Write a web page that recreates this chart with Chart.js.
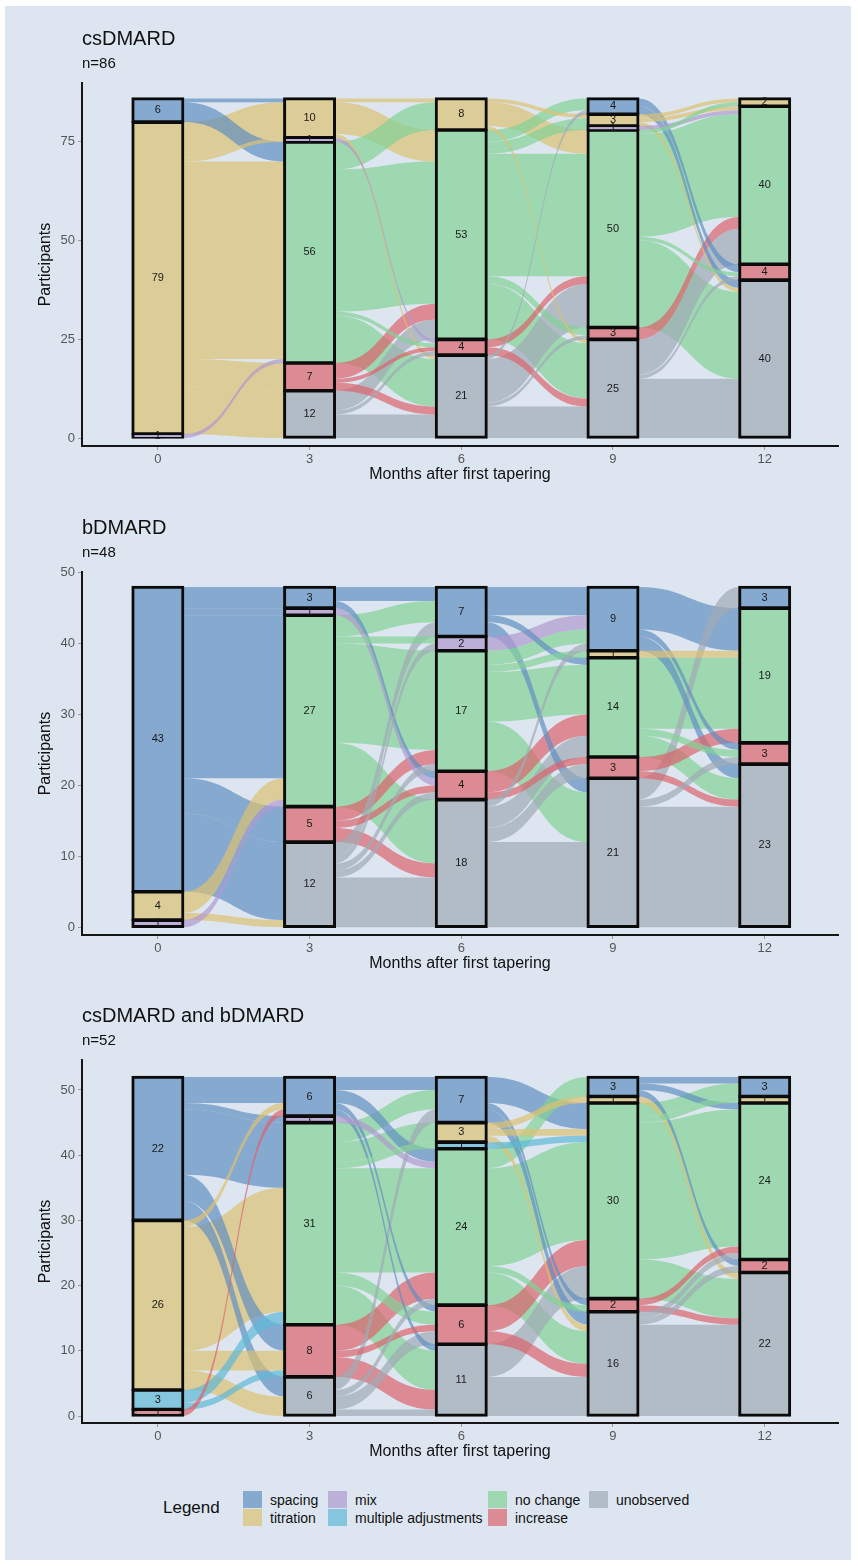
<!DOCTYPE html>
<html>
<head>
<meta charset="utf-8">
<script src="https://cdn.jsdelivr.net/npm/chart.js@4.4.1/dist/chart.umd.min.js"></script>
<style>
  html, body { margin: 0; padding: 0; background: #ffffff; }
  body { width: 858px; height: 1566px; position: relative; overflow: hidden;
         font-family: "Liberation Sans", Arial, sans-serif; color: #111; }
  #frame { position: absolute; left: 5px; top: 6px; right: 7px; bottom: 6px; background: #dde6f0; }
  .panel { position: absolute; left: 0; width: 858px; height: 488px; }
  .panel canvas { position: absolute; left: 0; top: 0; }
  .ttl { position: absolute; left: 82px; font-size: 20px; line-height: 1; white-space: nowrap; }
  .sub { position: absolute; left: 82px; font-size: 15px; line-height: 1; white-space: nowrap; }
  #legendTitle { position: absolute; left: 163px; top: 1499px; font-size: 17px; line-height: 1; }
  #legendItems { position: absolute; left: 243px; top: 1491px; display: grid;
                 grid-auto-flow: column; grid-template-rows: 17px 17px; row-gap: 1px;
                 grid-template-columns: 85px 160px 101px auto; }
  .lg { display: flex; align-items: center; height: 17px; font-size: 14px; white-space: nowrap; }
  .lg span.key { width: 19px; height: 17px; margin-right: 8px; display: inline-block; }
</style>
</head>
<body>
<div id="frame"></div>

<div class="panel" style="top:0px">
  <canvas id="chartCs" width="858" height="488"></canvas>
  <div class="ttl" style="top:28px">csDMARD</div>
  <div class="sub" style="top:55px">n=86</div>
</div>
<div class="panel" style="top:489px">
  <canvas id="chartB" width="858" height="488"></canvas>
  <div class="ttl" style="top:28px">bDMARD</div>
  <div class="sub" style="top:55px">n=48</div>
</div>
<div class="panel" style="top:977px">
  <canvas id="chartCsB" width="858" height="488"></canvas>
  <div class="ttl" style="top:28px">csDMARD and bDMARD</div>
  <div class="sub" style="top:55px">n=52</div>
</div>

<div id="legendTitle">Legend</div>
<div id="legendItems"></div>

<script>
// ---- data ---------------------------------------------------------------
const months = [0, 3, 6, 9, 12];
// strata, listed from the top of each column to the bottom
const states = ["spacing", "titration", "mix", "multiple adjustments", "no change", "increase", "unobserved"];
const stateColors = ["#86a9cf", "#dccc97", "#bdb0d8", "#84c6dd", "#9dd8b0", "#dc8a93", "#b2bcc7"];
const SP = 0, TI = 1, MX = 2, MA = 3, NC = 4, IN = 5, UN = 6;

// csDMARD: participants per stratum at each visit (order as in `states`)
const csCounts = [
  [6, 79, 1, 0, 0, 0, 0],
  [0, 10, 1, 0, 56, 7, 12],
  [0, 8, 0, 0, 53, 4, 21],
  [4, 3, 1, 0, 50, 3, 25],
  [0, 2, 0, 0, 40, 4, 40]
];
// transitions between consecutive visits: [from, to, participants]
const csFlows = [
  [[SP,TI,1],[SP,NC,5],[TI,TI,9],[TI,MX,1],[TI,NC,50],[TI,IN,7],[TI,UN,12],[MX,NC,1]],
  [[TI,TI,1],[TI,NC,8],[TI,UN,1],[MX,IN,1],[NC,TI,7],[NC,NC,36],[NC,IN,1],[NC,UN,12],
   [IN,NC,4],[IN,IN,1],[IN,UN,2],[UN,NC,5],[UN,IN,1],[UN,UN,6]],
  [[TI,TI,1],[TI,NC,6],[TI,UN,1],[NC,SP,3],[NC,TI,2],[NC,MX,1],[NC,NC,31],[NC,IN,2],[NC,UN,14],
   [IN,NC,2],[IN,UN,2],[UN,SP,1],[UN,NC,11],[UN,IN,1],[UN,UN,8]],
  [[SP,IN,2],[SP,UN,2],[TI,TI,1],[TI,NC,1],[TI,UN,1],[MX,NC,1],[NC,TI,1],[NC,NC,26],[NC,IN,1],[NC,UN,22],
   [IN,NC,3],[UN,NC,9],[UN,IN,1],[UN,UN,15]]
];
const csTicks = [0, 25, 50, 75];

// bDMARD
const bCounts = [
  [43, 4, 1, 0, 0, 0, 0],
  [3, 0, 1, 0, 27, 5, 12],
  [7, 0, 2, 0, 17, 4, 18],
  [9, 1, 0, 0, 14, 3, 21],
  [3, 0, 0, 0, 19, 3, 23]
];
const bFlows = [
  [[SP,SP,3],[SP,MX,1],[SP,NC,23],[SP,IN,5],[SP,UN,11],[TI,NC,3],[TI,UN,1],[MX,NC,1]],
  [[SP,SP,2],[SP,IN,1],[MX,IN,1],[NC,SP,3],[NC,MX,1],[NC,NC,14],[NC,UN,9],
   [IN,NC,2],[IN,IN,1],[IN,UN,2],[UN,SP,2],[UN,MX,1],[UN,NC,1],[UN,IN,1],[UN,UN,7]],
  [[SP,SP,4],[SP,NC,1],[SP,UN,2],[MX,SP,2],[NC,SP,2],[NC,TI,1],[NC,NC,7],[NC,UN,7],
   [IN,NC,3],[IN,IN,1],[UN,SP,1],[UN,NC,3],[UN,IN,2],[UN,UN,12]],
  [[SP,NC,6],[SP,IN,1],[SP,UN,2],[TI,NC,1],[NC,NC,10],[NC,IN,1],[NC,UN,3],
   [IN,NC,2],[IN,UN,1],[UN,SP,3],[UN,IN,1],[UN,UN,17]]
];
const bTicks = [0, 10, 20, 30, 40, 50];

// csDMARD and bDMARD
const csbCounts = [
  [22, 26, 0, 3, 0, 1, 0],
  [6, 0, 1, 0, 31, 8, 6],
  [7, 3, 0, 1, 24, 6, 11],
  [3, 1, 0, 0, 30, 2, 16],
  [3, 1, 0, 0, 24, 2, 22]
];
const csbFlows = [
  [[SP,SP,4],[SP,MX,1],[SP,NC,10],[SP,IN,4],[SP,UN,3],[TI,SP,1],[TI,NC,19],[TI,IN,3],[TI,UN,3],
   [MA,NC,2],[MA,IN,1],[IN,SP,1]],
  [[SP,SP,2],[SP,NC,2],[SP,IN,1],[SP,UN,1],[MX,NC,1],[NC,SP,3],[NC,TI,3],[NC,MA,1],[NC,NC,16],
   [NC,IN,2],[NC,UN,6],[IN,NC,4],[IN,IN,1],[IN,UN,3],[UN,SP,2],[UN,NC,1],[UN,IN,2],[UN,UN,1]],
  [[SP,NC,4],[SP,IN,1],[SP,UN,2],[TI,TI,1],[TI,NC,1],[TI,UN,1],[MA,NC,1],[NC,SP,3],[NC,NC,15],
   [NC,IN,1],[NC,UN,5],[IN,NC,4],[IN,UN,2],[UN,NC,5],[UN,UN,6]],
  [[SP,SP,1],[SP,NC,1],[SP,IN,1],[TI,UN,1],[NC,SP,2],[NC,TI,1],[NC,NC,21],[NC,UN,6],
   [IN,NC,1],[IN,UN,1],[UN,NC,1],[UN,IN,1],[UN,UN,14]]
];
const csbTicks = [0, 10, 20, 30, 40, 50];

// ---- drawing ------------------------------------------------------------
const FONT = '"Liberation Sans", Arial, sans-serif';
Chart.defaults.font.family = FONT;
const PAGE_BG = [221, 230, 240];
const FLOW_ALPHA = 0.7;

function hexToRgb(h) {
  const v = parseInt(h.slice(1), 16);
  return [(v >> 16) & 255, (v >> 8) & 255, v & 255];
}
// translucent flow colour that settles on the stratum colour over the page background
const flowColors = stateColors.map(h => {
  const c = hexToRgb(h).map((v, i) => Math.max(0, Math.min(255, Math.round((v - (1 - FLOW_ALPHA) * PAGE_BG[i]) / FLOW_ALPHA))));
  return `rgba(${c[0]},${c[1]},${c[2]},${FLOW_ALPHA})`;
});

// lower/upper bound of every stratum, stacked with the last state at the bottom
function stackBounds(counts) {
  return counts.map(col => {
    const b = [];
    let acc = 0;
    for (let s = col.length - 1; s >= 0; s--) { b[s] = [acc, acc + col[s]]; acc += col[s]; }
    return b;
  });
}

function alluviaPlugin(counts, flows) {
  return {
    id: 'alluvia',
    beforeDatasetsDraw(chart) {
      const { ctx, scales: { x, y } } = chart;
      let half = 0;
      chart.data.datasets.forEach((d, i) => {
        const m = chart.getDatasetMeta(i);
        if (!half && m.data.length) half = m.data[0].width / 2;
      });
      const bounds = stackBounds(counts);
      ctx.save();
      flows.forEach((step, t) => {
        const outTop = bounds[t].map(b => b[1]);
        const inTop = bounds[t + 1].map(b => b[1]);
        const geo = step.map(f => ({ from: f[0], to: f[1], n: f[2] }));
        geo.slice().sort((a, b) => a.from - b.from || a.to - b.to).forEach(g => {
          g.s1 = outTop[g.from]; g.s0 = g.s1 - g.n; outTop[g.from] = g.s0;
        });
        geo.slice().sort((a, b) => a.to - b.to || a.from - b.from).forEach(g => {
          g.t1 = inTop[g.to]; g.t0 = g.t1 - g.n; inTop[g.to] = g.t0;
        });
        const x0 = x.getPixelForValue(months[t]) + half;
        const x1 = x.getPixelForValue(months[t + 1]) - half;
        const xm = (x0 + x1) / 2;
        geo.sort((a, b) => b.n - a.n).forEach(g => {
          const ys0 = y.getPixelForValue(g.s0), ys1 = y.getPixelForValue(g.s1);
          const yt0 = y.getPixelForValue(g.t0), yt1 = y.getPixelForValue(g.t1);
          ctx.beginPath();
          ctx.moveTo(x0, ys1);
          ctx.bezierCurveTo(xm, ys1, xm, yt1, x1, yt1);
          ctx.lineTo(x1, yt0);
          ctx.bezierCurveTo(xm, yt0, xm, ys0, x0, ys0);
          ctx.closePath();
          ctx.fillStyle = flowColors[g.from];
          ctx.fill();
        });
      });
      ctx.restore();
    }
  };
}

const countLabels = {
  id: 'countLabels',
  afterDatasetsDraw(chart) {
    const ctx = chart.ctx;
    ctx.save();
    ctx.font = '11px ' + FONT;
    ctx.fillStyle = '#1a1a1a';
    ctx.textAlign = 'center';
    ctx.textBaseline = 'middle';
    chart.data.datasets.forEach((ds, di) => {
      chart.getDatasetMeta(di).data.forEach((bar, i) => {
        const p = bar.getProps(['x', 'y', 'base'], true);
        ctx.fillText(String(ds.data[i].n), p.x, (p.y + p.base) / 2);
      });
    });
    ctx.restore();
  }
};

function drawPanel(canvasId, counts, flows, ticks, yMin, yMax) {
  const bounds = stackBounds(counts);
  const datasets = states.map((name, s) => ({
    label: name,
    data: months.map((m, t) => counts[t][s] > 0 ? { x: m, y: bounds[t][s], n: counts[t][s] } : null).filter(Boolean),
    backgroundColor: stateColors[s],
    borderColor: '#0b0b0b',
    borderWidth: 3,
    inflateAmount: 1.2,
    borderSkipped: false,
    grouped: false,
    barPercentage: 1 / 3,
    categoryPercentage: 1
  }));
  return new Chart(document.getElementById(canvasId), {
    type: 'bar',
    data: { datasets },
    plugins: [alluviaPlugin(counts, flows), countLabels],
    options: {
      responsive: false,
      animation: false,
      events: [],
      layout: { padding: { top: 83, right: 20, left: 0, bottom: 0 } },
      plugins: { legend: { display: false }, tooltip: { enabled: false } },
      scales: {
        x: {
          type: 'linear', min: -1.5, max: 13.45, offset: false,
          afterBuildTicks: s => { s.ticks = months.map(v => ({ value: v })); },
          afterFit: s => { s.height = 42; },
          grid: { display: true, offset: false, drawOnChartArea: false, drawTicks: true, tickLength: 4, color: '#9a9a9a' },
          border: { display: true, color: '#161616', width: 2 },
          ticks: { autoSkip: false, padding: 2, color: '#555', font: { size: 13 } },
          title: { display: true, text: 'Months after first tapering', color: '#111',
                   font: { size: 16 }, padding: { top: 0, bottom: 4 } }
        },
        y: {
          type: 'linear', min: yMin, max: yMax,
          afterBuildTicks: s => { s.ticks = ticks.map(v => ({ value: v })); },
          afterFit: s => { s.width = 82; },
          grid: { display: true, drawOnChartArea: false, drawTicks: true, tickLength: 4, color: '#9a9a9a' },
          border: { display: true, color: '#161616', width: 2 },
          ticks: { autoSkip: false, padding: 3, color: '#555', font: { size: 13 } },
          title: { display: true, text: 'Participants', color: '#111',
                   font: { size: 16 }, padding: { top: 36, bottom: 0 } }
        }
      }
    }
  });
}

drawPanel('chartCs', csCounts, csFlows, csTicks, -2.0, 89.9);
drawPanel('chartB', bCounts, bFlows, bTicks, -1.1, 50.1);
drawPanel('chartCsB', csbCounts, csbFlows, csbTicks, -1.07, 54.6);

// legend, filled column by column in two rows
const legendBox = document.getElementById('legendItems');
states.forEach((name, s) => {
  const item = document.createElement('div');
  item.className = 'lg';
  const key = document.createElement('span');
  key.className = 'key';
  key.style.background = stateColors[s];
  item.appendChild(key);
  item.appendChild(document.createTextNode(name));
  legendBox.appendChild(item);
});
</script>
</body>
</html>
